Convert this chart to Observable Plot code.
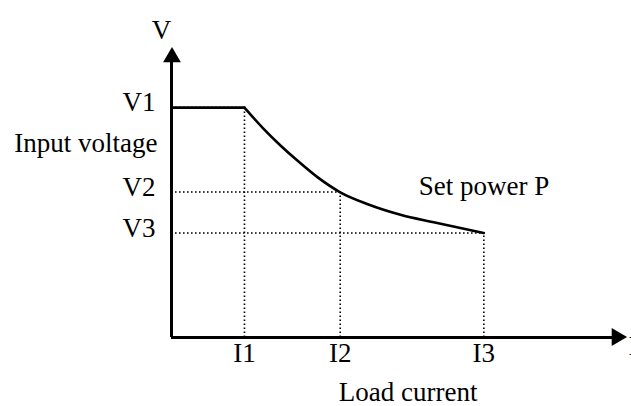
<!DOCTYPE html>
<html>
<head>
<meta charset="utf-8">
<script src="https://cdn.jsdelivr.net/npm/d3@7"></script>
<script src="https://cdn.jsdelivr.net/npm/@observablehq/plot@0.6"></script>
<style>
  html, body { margin: 0; padding: 0; background: white; overflow: hidden; }
</style>
</head>
<body>
<div id="chart"></div>
<script>
// Operating points: load current I and input voltage V (arbitrary units)
const currentLabels = ["I1", "I2", "I3"];
const currents = [1.6, 3.7, 6.85];
const voltageLabels = ["V1", "V2", "V3"];
const voltages = [7.9, 5.0, 3.59];

// Constant-voltage segment (0 .. I1)
const flatI = [0, 1.6];
const flatV = [7.9, 7.9];

// Constant-power curve (I1 .. I3)
const curveI = [1.6, 2.02, 2.39, 2.76, 3.20, 3.70, 4.29, 5.02, 5.75, 6.85];
const curveV = [7.9, 7.17, 6.60, 6.08, 5.51, 4.99, 4.59, 4.22, 3.96, 3.59];

const axisMax = 10;

const points = currents.map((I, i) => ({I, V: voltages[i], label: currentLabels[i]}));
const flat = flatI.map((I, i) => ({I, V: flatV[i]}));
const curve = curveI.map((I, i) => ({I, V: curveV[i]}));

const font = "'Liberation Serif', 'Times New Roman', Times, serif";
const dotted = {stroke: "black", strokeWidth: 1.6, strokeDasharray: "1.6 2.4"};

const chart = Plot.plot({
  width: 631,
  height: 406,
  marginLeft: 171,
  marginRight: 4,
  marginTop: 46,
  marginBottom: 69,
  x: {domain: [0, axisMax]},
  y: {domain: [0, axisMax]},
  style: {fontFamily: font, fontSize: "27px", background: "white", color: "black"},
  marks: [
    // dotted guide lines
    Plot.ruleX(points, {x: "I", y1: 0, y2: "V", ...dotted}),
    Plot.ruleY(points, {y: "V", x1: 0, x2: "I", ...dotted}),
    // curve
    Plot.line(flat, {x: "I", y: "V", stroke: "black", strokeWidth: 2.6}),
    Plot.line(curve, {x: "I", y: "V", stroke: "black", strokeWidth: 2.6, curve: "monotone-x"}),
    // axis lines
    Plot.ruleX([0], {y1: 0, y2: axisMax * 0.96, stroke: "black", strokeWidth: 3}),
    Plot.ruleY([0], {x1: 0, x2: axisMax * 0.975, stroke: "black", strokeWidth: 3}),
    // arrow heads
    Plot.dot([0], {frameAnchor: "top-left", dx: 0.5, dy: 10.7, symbol: "triangle", r: 6.6, fill: "black", stroke: null}),
    Plot.dot([0], {frameAnchor: "bottom-right", dx: -10.7, dy: -0.5, rotate: 90, symbol: "triangle", r: 6.6, fill: "black", stroke: null}),
    // tick labels
    Plot.axisY({ticks: voltages, tickFormat: d => voltageLabels[voltages.indexOf(d)], tickSize: 0, tickPadding: 16, dy: -5, label: null, fontSize: 27, fontFamily: font, fill: "black"}),
    Plot.axisX({ticks: currents, tickFormat: d => currentLabels[currents.indexOf(d)], tickSize: 0, tickPadding: 5, label: null, fontSize: 27, fontFamily: font, fill: "black"}),
    // axis names and annotations
    Plot.text(["V"], {frameAnchor: "top-left", dx: -10, dy: -27, textAnchor: "middle", fontSize: 27, fill: "black"}),
    Plot.text(["I"], {frameAnchor: "bottom-right", dx: 1, dy: 17, textAnchor: "start", fontSize: 27, fill: "black"}),
    Plot.text(["Input voltage"], {x: 0, y: 6.68, dx: -14, textAnchor: "end", fontSize: 27, fill: "black"}),
    Plot.text(["Set power P"], {x: 5.42, y: 5.19, textAnchor: "start", fontSize: 27, fill: "black"}),
    Plot.text(["Load current"], {x: 5.19, y: -1.92, dy: -1.5, textAnchor: "middle", fontSize: 27, fill: "black"})
  ]
});

document.getElementById("chart").appendChild(chart);
</script>
</body>
</html>
